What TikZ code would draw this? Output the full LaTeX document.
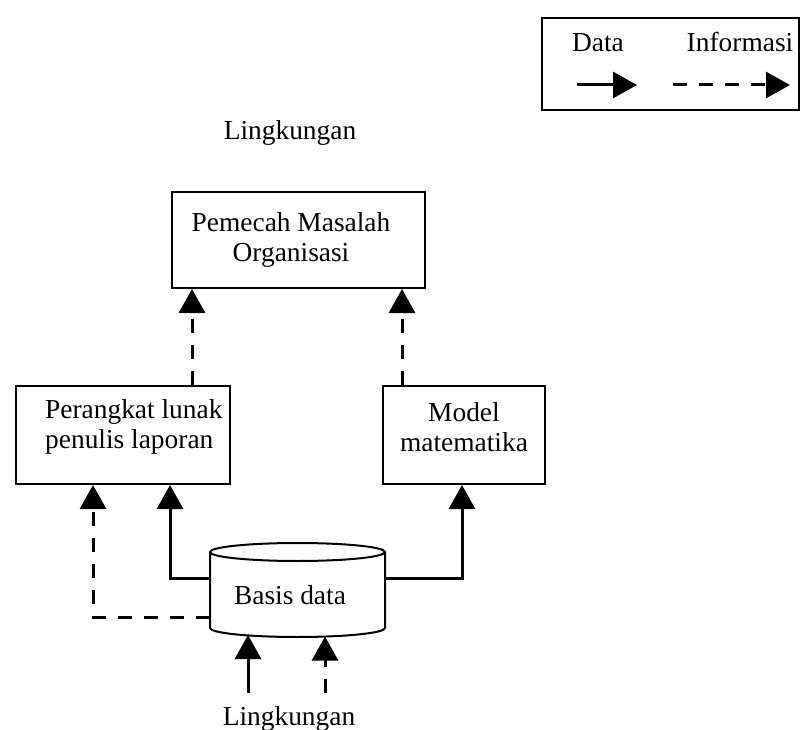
\documentclass[tikz,border=0pt]{standalone}
\usepackage{fontspec}
\setmainfont{Liberation Serif}
\usetikzlibrary{arrows.meta}
\begin{document}
\begin{tikzpicture}[x=1pt,y=-1pt,
  font=\fontsize{27.4}{30}\selectfont,
  box/.style={draw, line width=2pt, rectangle, inner sep=0pt},
  lbl/.style={align=center, inner sep=0pt},
  tip/.style={-{Triangle[length=24pt,width=26pt]}},
  data/.style={tip, line width=3pt},
  info/.style={tip, line width=3pt, dash pattern=on 14pt off 12pt},
]
\useasboundingbox (0,0) rectangle (801,730);

% legend
\node[box, minimum width=257pt, minimum height=92pt] (key) at (670.5,64) {};
\node[lbl, anchor=base] (kdata) at (598,52) {Data};
\node[lbl, anchor=base] (kinfo) at (740,52) {Informasi};
\coordinate (k1a) at (577,85);
\coordinate (k1b) at (637,85);
\coordinate (k2a) at (673,85);
\coordinate (k2b) at (790,85);
\draw[data] (k1a) -- (k1b);
\draw[info] (k2a) -- (k2b);

% environment labels
\node[lbl, anchor=base] (envtop) at (290,140) {Lingkungan};
\node[lbl, anchor=base] (envbot) at (289,725) {Lingkungan};

% boxes
\node[box, minimum width=253pt, minimum height=96pt] (org) at (298.5,240) {};
\node[lbl] (orgtxt) at (291,240) {Pemecah Masalah\\Organisasi};

\node[box, minimum width=214pt, minimum height=98pt] (rep) at (123,435) {};
\node[lbl, align=left, anchor=west] (reptxt) at (45,427) {Perangkat lunak\\penulis laporan};

\node[box, minimum width=162pt, minimum height=98pt] (mdl) at (464,435) {};
\node[lbl] (mdltxt) at (464,427) {Model\\matematika};

% database cylinder
\node[minimum width=175pt, minimum height=94pt, inner sep=0pt] (db) at (297.5,590) {};
\draw[line width=2pt] (210,552) -- (210,628)
  arc[start angle=180, end angle=360, x radius=87.5pt, y radius=9pt] -- (385,552);
\draw[line width=2pt] (297.5,552) ellipse[x radius=87.5pt, y radius=9pt];
\node[lbl] (dbtxt) at (290,595) {Basis data};

% connectors from the database
\coordinate (dA) at (170,578);
\coordinate (iA) at (93,617);
\coordinate (mA) at (462,578);
\draw[data] (db.west |- dA) -- (dA) -- (dA |- rep.south);
\draw[info] (db.west |- iA) -- (iA) -- (iA |- rep.south);
\draw[data] (db.east |- mA) -- (mA) -- (mA |- mdl.south);

% information up to the problem solver
\coordinate (rA) at (192,0);
\coordinate (mB) at (402,0);
\draw[info] (rA |- rep.north) -- (rA |- org.south);
\draw[info] (mB |- mdl.north) -- (mB |- org.south);

% inputs from the environment
\coordinate (eA) at (248,693);
\coordinate (eB) at (325,693);
\coordinate (tA) at (248,635);
\coordinate (tB) at (325,636.5);
\draw[data] (eA) -- (tA);
\draw[info] (eB) -- (tB);
\end{tikzpicture}
\end{document}
